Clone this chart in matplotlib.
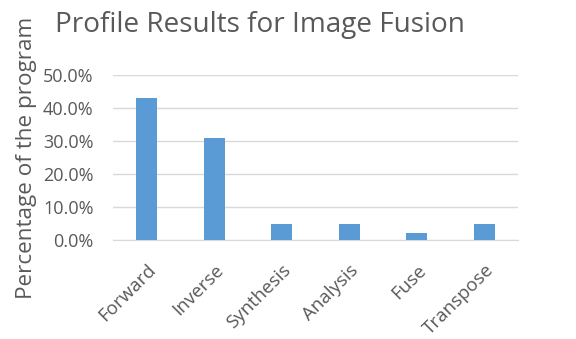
import matplotlib
matplotlib.use("Agg")
import matplotlib.pyplot as plt
from matplotlib.ticker import PercentFormatter

categories = ["Forward", "Inverse", "Synthesis", "Analysis", "Fuse", "Transpose"]
values = [42.9, 31.0, 5.0, 4.7, 2.0, 5.0]
yticks = [0, 10, 20, 30, 40, 50]

plt.rcParams['font.family'] = ['Open Sans', 'DejaVu Sans']
gray = '#595959'

fig = plt.figure(figsize=(5.76, 3.39), dpi=100)
ax = fig.add_axes([113/576, 1 - 240/339, (518-113)/576, (240-75)/339])

x = list(range(len(categories)))
ax.bar(x, values, width=0.31, color='#5b9bd5', zorder=3)
ax.set_xlim(-0.5, len(categories) - 0.5)
ax.set_ylim(0, 50)
ax.set_yticks(yticks)
ax.yaxis.set_major_formatter(PercentFormatter(decimals=1))
ax.grid(axis='y', color='#d9d9d9', linewidth=1, zorder=0)
for s in ['top', 'right', 'left']:
    ax.spines[s].set_visible(False)
ax.spines['bottom'].set_color('#d9d9d9')
ax.tick_params(axis='both', length=0, colors=gray)
ax.tick_params(axis='y', pad=14, labelsize=13)
ax.set_xticks(x)
ax.set_xticklabels(categories, rotation=45, ha='right', rotation_mode='anchor')
ax.tick_params(axis='x', pad=15, labelsize=13.5)
ax.set_ylabel("Percentage of the program", color=gray, fontsize=16.2)
ax.yaxis.set_label_coords(-0.187, 0.5)
fig.text(55/576, 1 - 25/339, "Profile Results for Image Fusion", color=gray,
         fontsize=20.1, ha='left', va='center')

fig.savefig("out.png", dpi=100)
